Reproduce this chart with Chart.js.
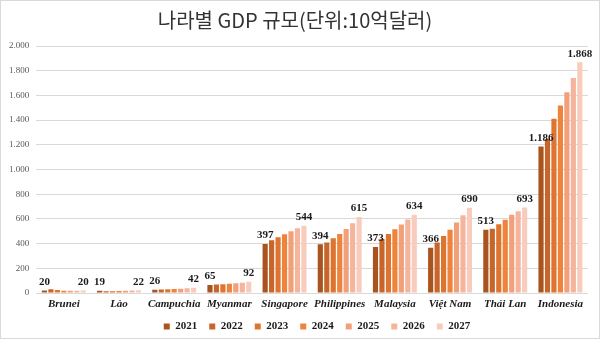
<!DOCTYPE html>
<html>
<head>
<meta charset="utf-8">
<script src="https://cdn.jsdelivr.net/npm/chart.js@4"></script>
<style>
  html, body { margin: 0; padding: 0; background: #fff; }
  #wrap { width: 600px; height: 339px; }
</style>
</head>
<body>
<div id="wrap"><canvas id="chart-gdp" width="600" height="339"></canvas></div>
<script>
const countries = ["Brunei", "Lào", "Campuchia", "Myanmar", "Singapore", "Philippines", "Malaysia", "Việt Nam", "Thái Lan", "Indonesia"];
const years = ["2021", "2022", "2023", "2024", "2025", "2026", "2027"];

const gdp2021 = [20, 19, 26, 65, 397, 394, 373, 366, 513, 1186];
const gdp2022 = [31, 15, 28, 68, 427, 408, 438, 408, 520, 1247];
const gdp2023 = [24, 15, 30, 70, 452, 443, 478, 462, 557, 1410];
const gdp2024 = [18, 16, 32, 75, 476, 478, 516, 513, 594, 1518];
const gdp2025 = [19, 18, 35, 78, 500, 519, 554, 570, 633, 1625];
const gdp2026 = [19, 20, 38, 83, 525, 565, 595, 630, 662, 1740];
const gdp2027 = [20, 22, 42, 92, 544, 615, 634, 690, 693, 1868];

const yTicks = [0, 200, 400, 600, 800, 1000, 1200, 1400, 1600, 1800, 2000];

const colors = ["#a9541f", "#c8652a", "#dd7430", "#ee843c", "#f2a07a", "#f5b59c", "#f8ccbd"];
const series = [gdp2021, gdp2022, gdp2023, gdp2024, gdp2025, gdp2026, gdp2027];

const serif = "'Liberation Serif', 'Times New Roman', serif";

// 1.186 처럼 점으로 천 단위 구분
const fmt = (v) => String(v).replace(/\B(?=(\d{3})+(?!\d))/g, ".");

// 첫 해와 마지막 해 값만 막대 위에 표시
const edgeLabels = {
  id: "edgeLabels",
  afterDatasetsDraw(chart) {
    const ctx = chart.ctx;
    ctx.save();
    ctx.font = "bold 11px " + serif;
    ctx.fillStyle = "#1a1a1a";
    ctx.textAlign = "center";
    ctx.textBaseline = "bottom";
    [0, years.length - 1].forEach((di) => {
      const meta = chart.getDatasetMeta(di);
      meta.data.forEach((bar, i) => {
        ctx.fillText(fmt(chart.data.datasets[di].data[i]), bar.x, bar.y - 3);
      });
    });
    ctx.restore();
  },
};

// 범례 높이 줄이고 조금 오른쪽으로
const tightLegend = {
  id: "tightLegend",
  beforeInit(chart) {
    const fit = chart.legend.fit;
    chart.legend.fit = function () {
      fit.call(this);
      this.height = 30;
    };
  },
  afterLayout(chart) {
    chart.legend.left += 22;
    chart.legend.right += 22;
  },
};

const frame = {
  id: "frame",
  afterDraw(chart) {
    const ctx = chart.ctx;
    ctx.save();
    ctx.strokeStyle = "#d9d9d9";
    ctx.lineWidth = 1;
    ctx.strokeRect(0.5, 0.5, chart.width - 1, chart.height - 1);
    ctx.restore();
  },
};

const gdpChart = new Chart(document.querySelector("#chart-gdp"), {
  type: "bar",
  data: {
    labels: countries,
    datasets: years.map((y, i) => ({
      label: y,
      data: series[i],
      backgroundColor: colors[i],
      barPercentage: 0.8,
      categoryPercentage: 0.82,
    })),
  },
  options: {
    responsive: false,
    animation: false,
    layout: { padding: { left: 2, right: 12, top: 0, bottom: 0 } },
    plugins: {
      title: {
        display: true,
        text: "나라별 GDP 규모(단위:10억달러)",
        color: "#333333",
        font: { family: "'Noto Sans CJK KR', sans-serif", size: 20, weight: "normal" },
        padding: { top: 8, bottom: 14 },
      },
      legend: {
        position: "bottom",
        labels: {
          boxWidth: 6,
          boxHeight: 6,
          padding: 12,
          color: "#1a1a1a",
          font: { family: serif, size: 11, weight: "bold" },
        },
      },
      tooltip: { enabled: false },
    },
    scales: {
      x: {
        grid: { display: false, drawTicks: false },
        border: { display: false },
        afterFit: (axis) => {
          axis.height = 16;
        },
        ticks: {
          color: "#1a1a1a",
          padding: 5,
          autoSkip: false,
          maxRotation: 0,
          minRotation: 0,
          font: { family: serif, size: 11, weight: "bold", style: "italic" },
        },
      },
      y: {
        min: 0,
        max: 2000,
        afterBuildTicks: (axis) => {
          axis.ticks = yTicks.map((v) => ({ value: v }));
        },
        grid: { color: "#d9d9d9", drawTicks: false },
        border: { display: false },
        ticks: {
          color: "#595959",
          padding: 7,
          font: { family: serif, size: 9 },
          callback: (v) => fmt(v),
        },
      },
    },
  },
  plugins: [edgeLabels, tightLegend, frame],
});
</script>
</body>
</html>
